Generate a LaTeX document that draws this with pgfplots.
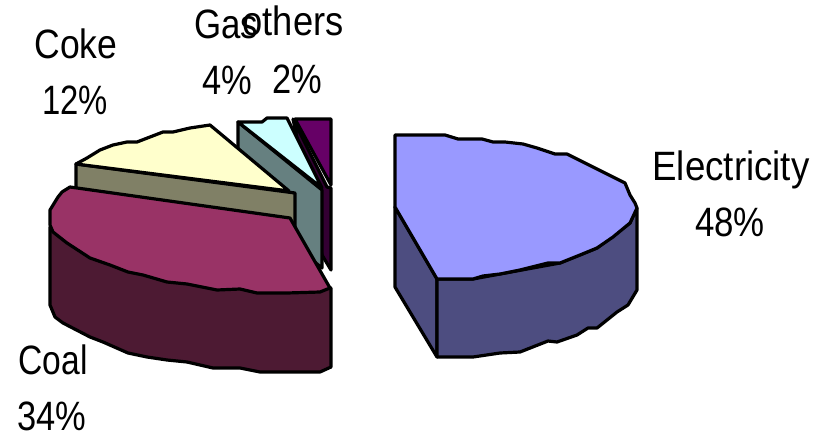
\documentclass[border=0pt]{standalone}
\usepackage{graphicx}
\usepackage{pgfplots}
\pgfplotsset{compat=1.18}
\usepackage{fontspec}
\setmainfont{Liberation Sans}
\definecolor{elecT}{HTML}{9999FF}\definecolor{elecS}{HTML}{4D4D80}
\definecolor{coalT}{HTML}{993366}\definecolor{coalS}{HTML}{4D1A33}
\definecolor{cokeT}{HTML}{FFFFCC}\definecolor{cokeS}{HTML}{808066}
\definecolor{gasT}{HTML}{CCFFFF}\definecolor{gasS}{HTML}{668080}
\definecolor{othT}{HTML}{660066}\definecolor{othS}{HTML}{330033}
\tikzset{lab/.style={anchor=base, font=\fontsize{41}{44}\selectfont, inner sep=0pt, text=black}}
% narrow label set on its baseline: x, y, horizontal scale, text
\newcommand{\lab}[4]{\node[lab] at (axis cs:#1,#2) {\scalebox{#3}[1]{#4}};}
\begin{document}
\begin{tikzpicture}
\begin{axis}[
  scale only axis, width=826pt, height=436pt,
  xmin=0, xmax=826, ymin=0, ymax=436, y dir=reverse,
  hide axis, clip=false,
  every axis plot/.append style={draw=black, line width=3.2pt, line join=round, mark=none},
]
% reserve the whole drawing area on the page
\path (axis cs:0,0) rectangle (axis cs:826,436);
% others slice
\addplot[fill=othS] coordinates {(293,119)(327,187)(331,188)(331,270)(322,255)} -- cycle;
\addplot[fill=othT] coordinates {(295,119)(331,119)(331,185)} -- cycle;
% gas slice
\addplot[fill=gasS] coordinates {(238,122)(322,190)(322,268)(238,200)} -- cycle;
\addplot[fill=gasT] coordinates {(238,122)(262,122)(267,118)(287,118)(322,188)} -- cycle;
% coke slice
\addplot[fill=cokeS] coordinates {(76,164)(295,193)(295,227)(76,195)} -- cycle;
\addplot[fill=cokeT] coordinates {(76,164)(87,158)(100,150)(113,145)(127,142)(137,142)(163,132)(173,132)(190,128)(210,125)(289,191)} -- cycle;
% coal slice
\addplot[fill=coalS] coordinates {(50,227)(50,305)(55,317)(63,323)(90,337)(103,342)(128,353)(147,357)(167,360)(187,362)(213,368)(240,368)(260,372)(320,372)(331,367)(331,288)} -- cycle;
\addplot[fill=coalT] coordinates {(70,187)(290,218)(330,288)(320,292)(287,293)(257,293)(240,289)(217,290)(187,284)(167,282)(143,275)(128,272)(110,265)(90,258)(67,243)(53,232)(50,225)(50,210)(58,197)(62,192)} -- cycle;
% electricity slice
\addplot[fill=elecS] coordinates {(395,207)(437,279)(437,357)(395,287)} -- cycle;
\addplot[fill=elecS] coordinates {(437,279)(473,279)(500,274)(560,263)(597,248)(630,223)(637,208)(637,290)(628,305)(617,312)(607,320)(597,328)(588,328)(577,335)(557,342)(548,341)(520,352)(500,353)(473,357)(437,357)} -- cycle;
\addplot[fill=elecT] coordinates {(395,135)(445,135)(458,139)(482,139)(493,142)(505,142)(523,144)(537,148)(555,154)(567,154)(593,167)(625,183)(630,195)(635,203)(637,208)(630,223)(613,237)(597,248)(580,255)(560,263)(548,263)(520,270)(500,274)(483,276)(473,279)(437,279)(395,207)} -- cycle;
% slice labels
\lab{76}{59}{0.867}{Coke}
\lab{75}{114}{0.80}{12\%}
\lab{226}{39}{0.85}{Gas}
\lab{227}{94}{0.84}{4\%}
\lab{293}{36}{0.886}{others}
\lab{297}{93}{0.84}{2\%}
\lab{731}{180}{0.895}{Electricity}
\lab{730}{236}{0.85}{48\%}
\lab{53}{374}{0.82}{Coal}
\lab{51.5}{430}{0.84}{34\%}
\end{axis}
\end{tikzpicture}
\end{document}
